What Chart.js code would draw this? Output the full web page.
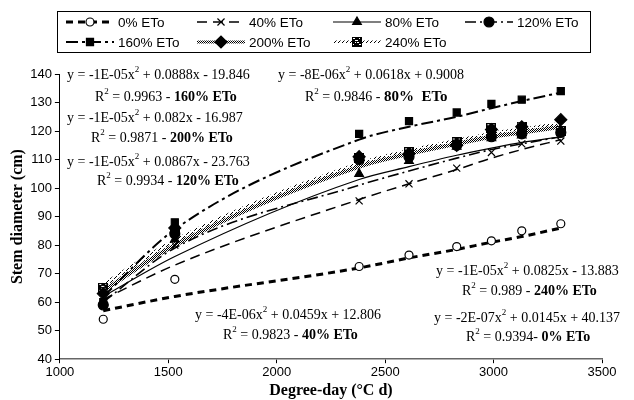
<!DOCTYPE html>
<html>
<head>
<meta charset="utf-8">
<script src="https://cdn.jsdelivr.net/npm/chart.js@4.4.0/dist/chart.umd.min.js"></script>
<style>
  html, body { margin: 0; padding: 0; background: #fff; }
  #wrap { width: 634px; height: 400px; }
</style>
</head>
<body>
<div id="wrap"><canvas id="chart"></canvas></div>
<script>
// degree-day of each measurement
const degreeDays = [1200, 1530, 2380, 2610, 2830, 2990, 3130, 3310];
const treatments = ['0% ETo', '40% ETo', '80% ETo', '120% ETo', '160% ETo', '200% ETo', '240% ETo'];

// measured stem diameter (cm)
const obs0   = [54, 68, 72.5, 76.5, 79.5, 81.5, 85, 87.5];
const obs40  = [59, 80, 95.5, 101.5, 107, 112.5, 115.5, 116.5];
const obs80  = [60, 82, 105, 109.5, 114.5, 117.5, 118.5, 120];
const obs120 = [59, 84, 110, 111, 115, 118, 119, 119.5];
const obs160 = [60, 88, 119, 123.5, 126.5, 129.5, 131, 134];
const obs200 = [63, 86, 111, 112, 115, 120.5, 121.5, 124];
const obs240 = [65, 85, 110.5, 112.5, 116, 121, 121.5, 120];

// trend lines
const fit0   = [57, 62, 72, 75.5, 78.5, 81, 83, 86];
const fit40  = [61, 73, 96, 101.5, 106.5, 110.5, 113.5, 117];
const fit80  = [62, 76, 103, 107.5, 111.5, 114, 116, 118];
const fit120 = [60, 79, 101, 106, 110.5, 113.5, 115.5, 118];
const fit160 = [62, 85.5, 117, 121.5, 125, 128, 130.5, 133.5];
const fit200 = [64, 80, 107.5, 112, 115.5, 118, 119.5, 121.5];
const fit240 = [66, 81.5, 108.5, 113, 116.5, 119, 120.5, 122.5];

const observed = [obs0, obs40, obs80, obs120, obs160, obs200, obs240];
const fitted = [fit0, fit40, fit80, fit120, fit160, fit200, fit240];

// regression labels: [x2 coefficient, rest of equation, R2 value, treatment]
const equations = [
  ['-1E-05', '0.0888x - 19.846', '0.9963 - ', '160% ETo'],
  ['-8E-06', '0.0618x + 0.9008', '0.9846 - ', '80%  ETo'],
  ['-1E-05', '0.082x - 16.987', '0.9871 - ', '200% ETo'],
  ['-1E-05', '0.0867x - 23.763', '0.9934 - ', '120% ETo'],
  ['-1E-05', '0.0825x - 13.883', '0.989 - ', '240% ETo'],
  ['-4E-06', '0.0459x + 12.806', '0.9823 - ', '40% ETo'],
  ['-2E-07', '0.0145x + 40.137', '0.9394- ', '0% ETo']
];
const eqPos = [[67, 75, 95, 97], [278, 75, 305, 97], [67, 118, 91, 138], [67, 162, 97, 181],
               [436, 271, 462, 291], [195, 315, 223, 335], [434, 318, 466, 337]];

function stipple(dense) {
  const c = document.createElement('canvas');
  c.width = 4; c.height = 4;
  const g = c.getContext('2d');
  g.fillStyle = '#000';
  const dots = dense
    ? [[0, 0], [1, 1], [2, 2], [3, 3], [2, 0], [0, 2], [3, 1], [1, 3]]
    : [[0, 0], [2, 2], [3, 1]];
  dots.forEach(d => g.fillRect(d[0], d[1], 1, 1));
  return g.createPattern(c, 'repeat');
}

function hatchMarker() {
  const c = document.createElement('canvas');
  c.width = 10; c.height = 10;
  const g = c.getContext('2d');
  g.fillStyle = '#000';
  g.fillRect(0, 0, 10, 10);
  g.fillStyle = '#fff';
  for (let i = 1; i < 9; i += 2) { g.fillRect(i, i, 2, 1); g.fillRect(8 - i, i, 1, 1); }
  return c;
}

const markerStyles = ['circle', 'crossRot', 'triangle', 'circle', 'rect', 'rectRot', hatchMarker()];
const markerFill = ['#fff', '#000', '#000', '#000', '#000', '#000', '#000'];
const markerRadius = [4, 5, 5, 5, 5, 6, 5];
const lineWidths = [3, 1.5, 1.2, 1.6, 2, 4, 4];
const lineDash = [[7, 5], [10, 6], [], [11, 4, 2, 4], [12, 4, 3, 4], [], []];
const lineColors = ['#000', '#000', '#000', '#000', '#000', stipple(true), stipple(false)];

const datasets = [];
fitted.forEach((vals, i) => {
  datasets.push({
    label: 'fit ' + treatments[i],
    data: degreeDays.map((x, k) => ({ x: x, y: vals[k] })),
    showLine: true,
    borderColor: lineColors[i],
    borderWidth: lineWidths[i],
    borderDash: lineDash[i],
    cubicInterpolationMode: 'monotone',
    pointRadius: 0,
    fill: false,
    order: 2
  });
});
observed.forEach((vals, i) => {
  datasets.push({
    label: treatments[i],
    data: degreeDays.map((x, k) => ({ x: x, y: vals[k] })),
    showLine: false,
    pointStyle: markerStyles[i],
    pointRadius: markerRadius[i],
    pointBackgroundColor: markerFill[i],
    pointBorderColor: '#000',
    pointBorderWidth: 1.2,
    order: 1
  });
});

// legend drawn as a boxed grid like the original
const legendSlots = [[66, 22], [197, 22], [333, 22], [465, 22], [66, 42], [197, 42], [333, 42]];
const legendBox = {
  id: 'legendBox',
  afterDraw(chart) {
    const ctx = chart.ctx;
    ctx.save();
    ctx.strokeStyle = '#000';
    ctx.lineWidth = 1;
    ctx.strokeRect(57.5, 11.5, 533, 41);
    treatments.forEach((t, i) => {
      const [x, y] = legendSlots[i];
      ctx.save();
      ctx.strokeStyle = lineColors[i];
      ctx.lineWidth = Math.min(lineWidths[i], 3);
      ctx.setLineDash(lineDash[i]);
      ctx.beginPath();
      ctx.moveTo(x, y);
      ctx.lineTo(x + 48, y);
      ctx.stroke();
      ctx.setLineDash([]);
      ctx.fillStyle = markerFill[i];
      ctx.strokeStyle = '#000';
      ctx.lineWidth = 1.2;
      Chart.helpers.drawPoint(ctx, {
        pointStyle: markerStyles[i], radius: markerRadius[i], rotation: 0, borderWidth: 1.2
      }, x + 24, y);
      ctx.restore();
      ctx.fillStyle = '#000';
      ctx.font = '13.5px "Liberation Sans", Arial, sans-serif';
      ctx.textBaseline = 'middle';
      ctx.fillText(t, x + 52, y + 1);
    });
    ctx.restore();
  }
};

const eqLabels = {
  id: 'eqLabels',
  afterDraw(chart) {
    const ctx = chart.ctx;
    const serif = '"Liberation Serif", "Times New Roman", serif';
    ctx.save();
    ctx.fillStyle = '#000';
    ctx.textBaseline = 'middle';
    const put = (parts, x, y) => {
      parts.forEach(p => {
        ctx.font = p.f;
        ctx.fillText(p.t, x, y + (p.dy || 0));
        x += ctx.measureText(p.t).width;
      });
    };
    equations.forEach((e, i) => {
      const [x1, y1, x2, y2] = eqPos[i];
      put([
        { t: 'y = ' + e[0] + 'x', f: '14px ' + serif },
        { t: '2', f: '9px ' + serif, dy: -5 },
        { t: ' + ' + e[1], f: '14px ' + serif }
      ], x1, y1);
      put([
        { t: 'R', f: '14px ' + serif },
        { t: '2', f: '9px ' + serif, dy: -5 },
        { t: ' = ' + e[2], f: '14px ' + serif },
        { t: e[3], f: (i === 1 ? 'bold 15px ' : 'bold 14px ') + serif }
      ], x2, y2);
    });
    ctx.restore();
  }
};

new Chart(document.getElementById('chart'), {
  type: 'scatter',
  data: { datasets: datasets },
  options: {
    responsive: true,
    maintainAspectRatio: false,
    animation: false,
    layout: { padding: { top: 74, right: 32, left: 8, bottom: 0 } },
    plugins: { legend: { display: false }, tooltip: { enabled: false } },
    scales: {
      x: {
        type: 'linear',
        min: 1000, max: 3500,
        ticks: {
          stepSize: 500, color: '#000', padding: 1,
          font: { family: '"Liberation Sans", Arial', size: 13 },
          callback: v => String(v)
        },
        grid: { display: true, drawOnChartArea: false, drawTicks: true, tickLength: 4, color: '#000' },
        border: { color: '#666', width: 1.5 },
        title: {
          display: true, text: 'Degree-day (°C d)', color: '#000',
          font: { family: '"Liberation Serif", "Times New Roman", serif', size: 16, weight: 'bold' },
          padding: { top: 0, bottom: 0 }
        }
      },
      y: {
        min: 40, max: 140,
        ticks: { stepSize: 10, color: '#000', font: { family: '"Liberation Sans", Arial', size: 13 }, padding: 3 },
        grid: { display: true, drawOnChartArea: false, drawTicks: true, tickLength: 5, color: '#000' },
        border: { color: '#000', width: 1 },
        title: {
          display: true, text: 'Stem diameter (cm)', color: '#000',
          font: { family: '"Liberation Serif", "Times New Roman", serif', size: 16, weight: 'bold' },
          padding: { top: 0, bottom: 0 }
        }
      }
    }
  },
  plugins: [legendBox, eqLabels]
});
</script>
</body>
</html>
